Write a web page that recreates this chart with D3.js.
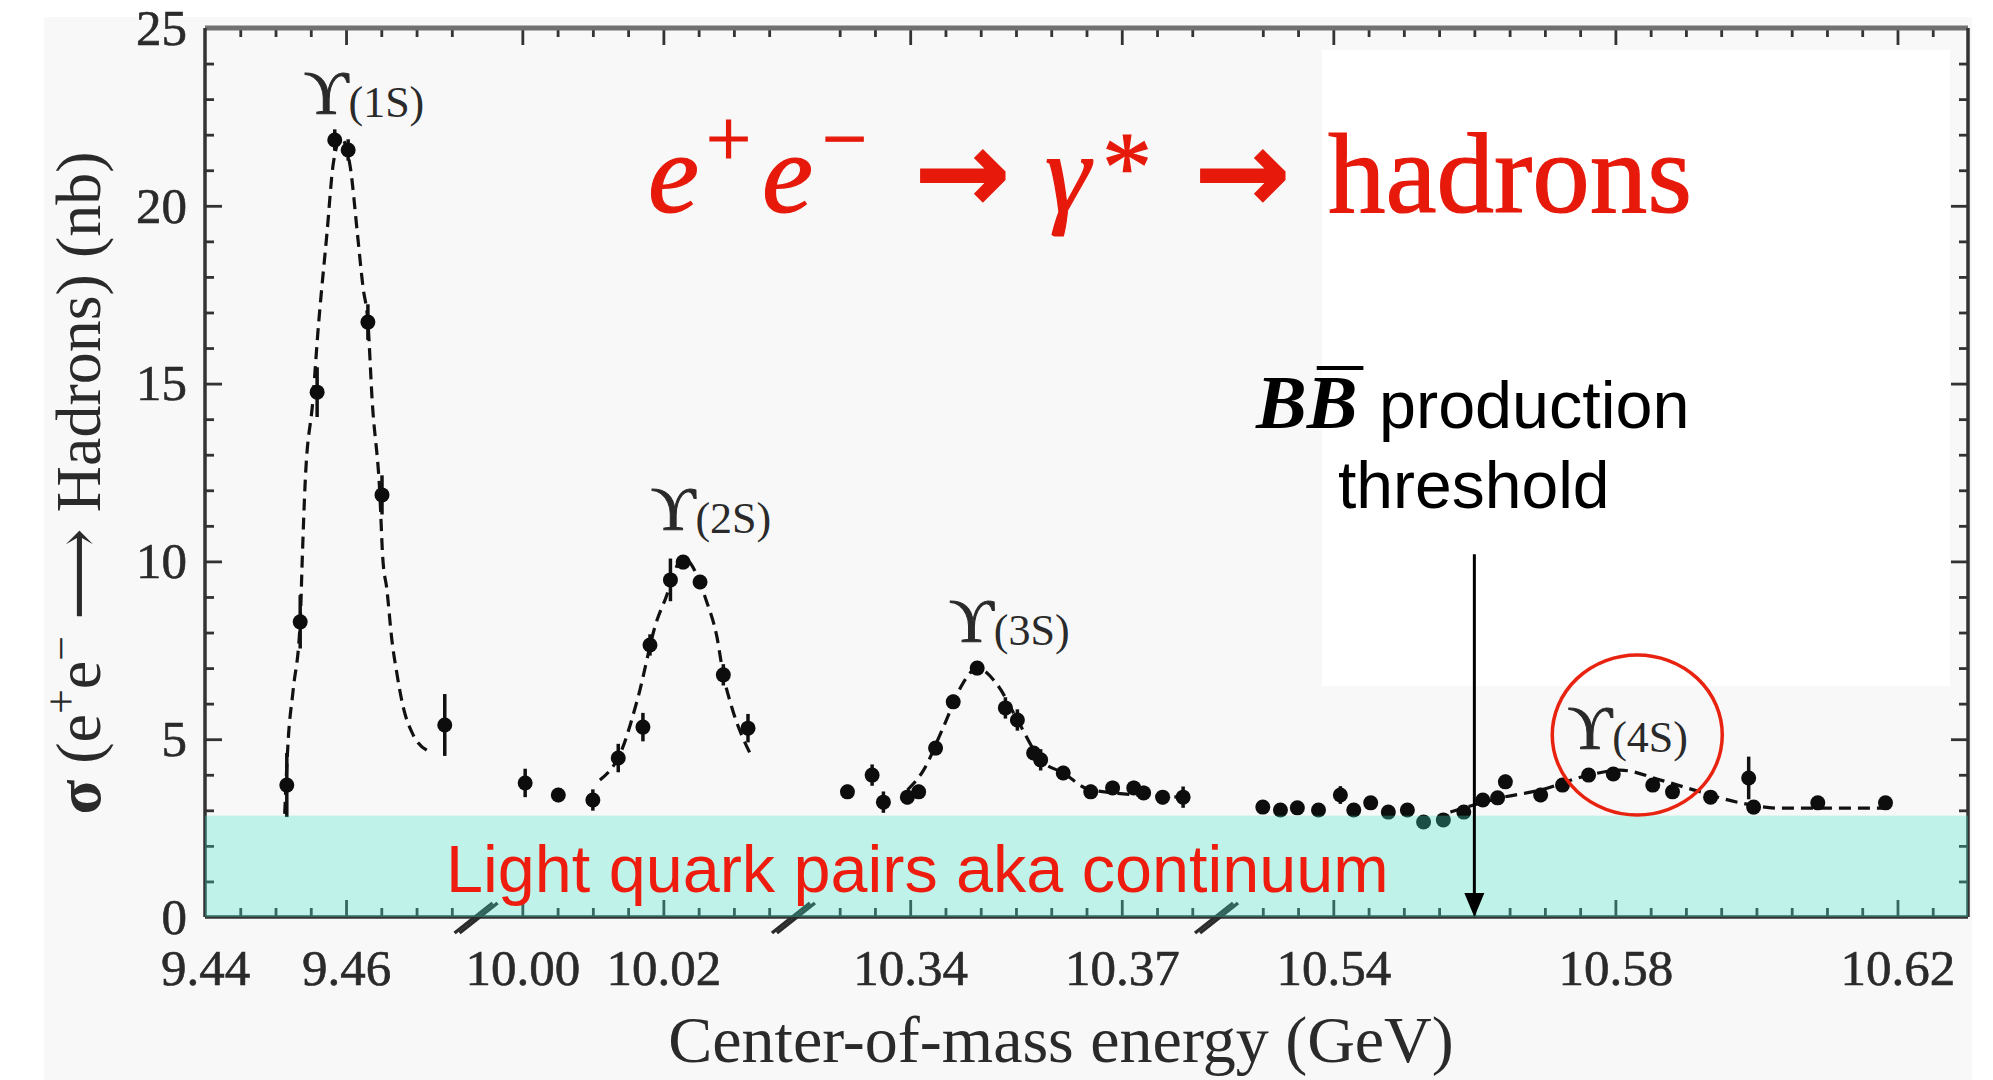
<!DOCTYPE html>
<html>
<head>
<meta charset="utf-8">
<script src="https://cdn.jsdelivr.net/npm/d3@7"></script>
<style>
  body { margin: 0; background: #fff; }
  svg { display: block; }
  .serif { font-family: "Liberation Serif", "DejaVu Serif", serif; }
  .sans { font-family: "Liberation Sans", Arial, sans-serif; }
</style>
</head>
<body>
<div id="chart"></div>
<script>
// broken x axis: visible energy windows (GeV)
const segments = [[9.44, 9.48], [9.995, 10.04], [10.325, 10.385], [10.525, 10.63]];
const xTickLabels = [9.44, 9.46, 10.00, 10.02, 10.34, 10.37, 10.54, 10.58, 10.62];
const yTickLabels = [0, 5, 10, 15, 20, 25];

// measured cross sections: [energy GeV, sigma nb, error nb]
const points1S = [
  [9.4516, 3.71, 0.9], [9.4535, 8.30, 0.75], [9.4559, 14.76, 0.7], [9.4584, 21.85, 0.3],
  [9.4603, 21.57, 0.3], [9.4631, 16.73, 0.5], [9.4651, 11.87, 0.55], [9.4740, 5.40, 0.87]
];
const points2S = [
  [10.0004, 3.77, 0.4], [10.0051, 3.43, 0.2], [10.0100, 3.29, 0.3], [10.0136, 4.47, 0.4],
  [10.0171, 5.34, 0.4], [10.0181, 7.65, 0.3], [10.0210, 9.48, 0.6], [10.0228, 9.98, 0.2],
  [10.0252, 9.42, 0.2], [10.0285, 6.81, 0.3], [10.0320, 5.31, 0.4]
];
const points3S = [
  [10.3311, 3.52, 0.2], [10.3346, 3.99, 0.3], [10.3362, 3.23, 0.3], [10.3396, 3.37, 0.2],
  [10.3412, 3.52, 0.2], [10.3436, 4.75, 0.2], [10.3461, 6.05, 0.2], [10.3495, 7.00, 0.2],
  [10.3535, 5.88, 0.3], [10.3552, 5.54, 0.3], [10.3575, 4.61, 0.2], [10.3585, 4.42, 0.3],
  [10.3617, 4.05, 0.2], [10.3656, 3.52, 0.2], [10.3687, 3.63, 0.2], [10.3717, 3.63, 0.2],
  [10.3731, 3.49, 0.2], [10.3758, 3.37, 0.2], [10.3787, 3.37, 0.3]
];
const points4S = [
  [10.5300, 3.09, 0.1], [10.5325, 3.01, 0.1], [10.5349, 3.07, 0.1], [10.5379, 3.01, 0.1],
  [10.5410, 3.43, 0.25], [10.5429, 3.01, 0.1], [10.5453, 3.21, 0.1], [10.5478, 2.95, 0.1],
  [10.5505, 3.01, 0.1], [10.5528, 2.67, 0.15], [10.5556, 2.73, 0.15], [10.5585, 2.95, 0.1],
  [10.5612, 3.29, 0.1], [10.5633, 3.35, 0.1], [10.5644, 3.80, 0.2], [10.5694, 3.43, 0.2],
  [10.5725, 3.71, 0.15], [10.5762, 3.99, 0.1], [10.5797, 4.02, 0.1], [10.5853, 3.71, 0.1],
  [10.5881, 3.52, 0.15], [10.5935, 3.37, 0.1], [10.5989, 3.91, 0.6], [10.5996, 3.09, 0.2],
  [10.6087, 3.21, 0.1], [10.6183, 3.21, 0.15]
];

// dashed fit curves: [energy GeV, sigma nb]
const fit1S = [
  [9.4513, 2.9], [9.4518, 4.98], [9.4525, 6.38], [9.4535, 8.30], [9.4538, 10.12], [9.4542, 12.2],
  [9.4553, 14.54], [9.4560, 16.42], [9.4573, 19.24], [9.4582, 21.2], [9.4593, 21.9], [9.4606, 21.09],
  [9.4616, 19.24], [9.4624, 17.72], [9.4631, 16.73], [9.4637, 14.54], [9.4648, 11.87], [9.4652, 10.12],
  [9.4658, 9.2], [9.4665, 7.79], [9.4672, 6.86], [9.4681, 5.91], [9.4694, 5.17], [9.4719, 4.64]
];
const fit2S = [
  [10.0110, 3.85], [10.0141, 4.7], [10.0163, 6.1], [10.0191, 8.35], [10.0202, 8.9], [10.0228, 10.1],
  [10.0262, 8.83], [10.0276, 7.87], [10.0285, 6.81], [10.0297, 5.9], [10.0323, 4.6]
];
const fit3S = [
  [10.3396, 3.57], [10.3419, 4.13], [10.3447, 5.34], [10.3475, 6.58], [10.3495, 7.0], [10.3524, 6.52],
  [10.3552, 5.54], [10.3585, 4.42], [10.3617, 4.05], [10.3656, 3.57], [10.3787, 3.37]
];
const fit4S = [
  [10.5566, 2.95], [10.5637, 3.35], [10.5694, 3.57], [10.5762, 3.99], [10.5807, 4.13], [10.5864, 3.85],
  [10.5920, 3.52], [10.5977, 3.21], [10.6034, 3.06], [10.6190, 3.06]
];

// resonance names and where their labels sit (energy, sigma of baseline)
const resonances = ['1S', '2S', '3S', '4S'];
const labelEnergy = [9.4540, 10.0182, 10.3455, 10.5732];
const labelSigma = [22.6, 10.9, 7.75, 4.75];

const continuumTop = 2.85;       // light-quark band height (nb)
const bbThreshold = 10.56;       // B Bbar threshold (GeV)

// ---------------------------------------------------------------
const W = 1993, H = 1080;
const margin = { top: 28, right: 25, bottom: 163, left: 205 };
const width = W - margin.left - margin.right;
const height = H - margin.top - margin.bottom;

// piecewise linear scale, same GeV-per-pixel on every window
const span = d3.sum(segments, s => s[1] - s[0]);
const xDomain = [], xRange = [];
let acc = 0;
segments.forEach(s => {
  xDomain.push(s[0], s[1]);
  xRange.push(acc / span * width, (acc + s[1] - s[0]) / span * width);
  acc += s[1] - s[0];
});
const x = d3.scaleLinear().domain(xDomain).range(xRange);
const y = d3.scaleLinear().domain([0, 25]).range([height, 0]);

const isLabel = v => xTickLabels.some(t => Math.abs(t - v) < 1e-6);
const xTicks = segments.flatMap(s =>
  d3.range(Math.round(s[0] / 0.005) + 1, Math.round(s[1] / 0.005)).map(i => +(i * 0.005).toFixed(3)));
const xMajor = xTicks.filter(isLabel);
const xMinor = xTicks.filter(v => !isLabel(v));
const yMinor = d3.range(1, 25).filter(v => v % 5 !== 0);
const yMajor = [5, 10, 15, 20];

const svg = d3.select('#chart').append('svg')
  .attr('width', W).attr('height', H);

// slide background: grey scan of the figure plus a white cover box
svg.append('rect').attr('x', 44).attr('y', 17).attr('width', 1928).attr('height', H - 17)
  .attr('fill', '#f8f8f8');
svg.append('rect').attr('x', 1322).attr('y', 50).attr('width', 628).attr('height', 636)
  .attr('fill', '#ffffff');

const chart = svg.append('g')
  .attr('transform', `translate(${margin.left},${margin.top})`);

// inward ticks on all four sides
function tickAxis(axisFn, scale, values, size, transform) {
  const g = chart.append('g')
    .attr('transform', transform)
    .call(axisFn(scale).tickValues(values).tickSize(size).tickFormat(''));
  g.select('.domain').remove();
  g.selectAll('line').attr('stroke', '#333').attr('stroke-width', 2.8);
}
tickAxis(d3.axisBottom, x, xMinor, -9, `translate(0,${height})`);
tickAxis(d3.axisBottom, x, xMajor, -17, `translate(0,${height})`);
tickAxis(d3.axisTop, x, xMinor, -9, 'translate(0,0)');
tickAxis(d3.axisTop, x, xMajor, -17, 'translate(0,0)');
tickAxis(d3.axisLeft, y, yMinor, -9, 'translate(0,0)');
tickAxis(d3.axisLeft, y, yMajor, -17, 'translate(0,0)');
tickAxis(d3.axisRight, y, yMinor, -9, `translate(${width},0)`);
tickAxis(d3.axisRight, y, yMajor, -17, `translate(${width},0)`);

// frame
chart.append('line').attr('x1', 0).attr('x2', width).attr('y1', 0).attr('y2', 0)
  .attr('stroke', '#707070').attr('stroke-width', 5);
chart.append('line').attr('x1', 0).attr('x2', width).attr('y1', height).attr('y2', height)
  .attr('stroke', '#333').attr('stroke-width', 3.5);
chart.append('line').attr('x1', 0).attr('x2', 0).attr('y1', 0).attr('y2', height)
  .attr('stroke', '#333').attr('stroke-width', 3.5);
chart.append('line').attr('x1', width).attr('x2', width).attr('y1', 0).attr('y2', height)
  .attr('stroke', '#333').attr('stroke-width', 3.5);

// axis break marks
segments.slice(0, -1).forEach(s => {
  const bx = x(s[1]);
  [-2.5, 2.5].forEach(o => {
    chart.append('line')
      .attr('x1', bx - 30 + o).attr('y1', height + 16)
      .attr('x2', bx + 8 + o).attr('y2', height - 14)
      .attr('stroke', '#2b2b2b').attr('stroke-width', 3.5);
  });
});

// tick labels
const xLab = chart.append('g').attr('transform', `translate(0,${height})`)
  .call(d3.axisBottom(x).tickValues(xTickLabels).tickSize(0).tickPadding(32).tickFormat(d3.format('.2f')));
xLab.select('.domain').remove();
xLab.attr('class', 'serif').attr('font-family', null).attr('font-size', 51);
xLab.selectAll('text').attr('fill', '#2a2a2a').attr('stroke', '#2a2a2a').attr('stroke-width', 0.6);

const yLab = chart.append('g')
  .call(d3.axisLeft(y).tickValues(yTickLabels).tickSize(0).tickPadding(18));
yLab.select('.domain').remove();
yLab.attr('class', 'serif').attr('font-family', null).attr('font-size', 51);
yLab.selectAll('text').attr('fill', '#2a2a2a').attr('stroke', '#2a2a2a').attr('stroke-width', 0.6);

// dashed fits
const line = d3.line().x(d => x(d[0])).y(d => y(d[1])).curve(d3.curveMonotoneX);
chart.selectAll('.fit')
  .data([fit1S, fit2S, fit3S, fit4S])
  .join('path')
  .attr('class', 'fit')
  .attr('d', line)
  .attr('fill', 'none')
  .attr('stroke', '#111')
  .attr('stroke-width', 3.2)
  .attr('stroke-dasharray', '12,7');

// data points with error bars
const allPoints = [...points1S, ...points2S, ...points3S, ...points4S];
chart.selectAll('.err')
  .data(allPoints)
  .join('line')
  .attr('class', 'err')
  .attr('x1', d => x(d[0])).attr('x2', d => x(d[0]))
  .attr('y1', d => y(d[1] - d[2])).attr('y2', d => y(d[1] + d[2]))
  .attr('stroke', '#111').attr('stroke-width', 3.5);
chart.selectAll('.pt')
  .data(allPoints)
  .join('circle')
  .attr('class', 'pt')
  .attr('cx', d => x(d[0])).attr('cy', d => y(d[1]))
  .attr('r', 7.5)
  .attr('fill', '#0d0d0d');

// continuum band laid over the plot
chart.append('rect')
  .attr('x', 0).attr('width', width)
  .attr('y', y(continuumTop)).attr('height', y(0) - y(continuumTop))
  .attr('fill', 'rgb(61,231,198)').attr('opacity', 0.3);

// resonance labels
resonances.forEach((r, i) => {
  const t = chart.append('text').attr('class', 'serif')
    .attr('x', x(labelEnergy[i])).attr('y', y(labelSigma[i]))
    .attr('fill', '#2a2a2a');
  t.append('tspan').attr('font-size', 62).attr('stroke', '#2a2a2a').attr('stroke-width', 1).text('\u03D2');
  t.append('tspan').attr('font-size', 44).attr('dy', 4).text(`(${r})`);
});

// circle around Y(4S)
chart.append('ellipse')
  .attr('cx', x(10.5831)).attr('cy', y(5.12))
  .attr('rx', 85).attr('ry', 80)
  .attr('fill', 'none').attr('stroke', '#e8230f').attr('stroke-width', 3.5);

// threshold arrow
chart.append('line')
  .attr('x1', x(bbThreshold)).attr('x2', x(bbThreshold))
  .attr('y1', y(10.2)).attr('y2', y(0) - 20)
  .attr('stroke', '#000').attr('stroke-width', 3);
chart.append('path')
  .attr('d', `M${x(bbThreshold) - 10},${y(0) - 24} L${x(bbThreshold) + 10},${y(0) - 24} L${x(bbThreshold)},${y(0)} Z`)
  .attr('fill', '#000');

// axis titles
svg.append('text').attr('class', 'serif')
  .attr('x', 1061).attr('y', 1062)
  .attr('text-anchor', 'middle').attr('font-size', 66).attr('fill', '#2a2a2a')
  .text('Center-of-mass energy (GeV)');

const yt = svg.append('text').attr('class', 'serif')
  .attr('transform', 'translate(100,483) rotate(-90)')
  .attr('text-anchor', 'middle').attr('font-size', 64).attr('fill', '#2a2a2a');
yt.append('tspan').attr('font-weight', 'bold').text('\u03C3');
yt.append('tspan').text(' (e');
yt.append('tspan').attr('font-size', 44).attr('dy', -24).text('+');
yt.append('tspan').attr('dy', 24).text('e');
yt.append('tspan').attr('font-size', 44).attr('dy', -24).text('\u2212');
yt.append('tspan').attr('dy', 24).text(' \u27F6 Hadrons) (nb)');

// reaction title
const red = '#e6190b';
const title = svg.append('g').attr('class', 'serif').attr('fill', red)
  .attr('stroke', red).attr('stroke-width', 1.2);
const piece = (txt, px, py, size, italic) => title.append('text')
  .attr('x', px).attr('y', py).attr('font-size', size)
  .attr('font-style', italic ? 'italic' : 'normal').text(txt);
piece('e', 648, 212, 115, true);
piece('+', 706, 166, 80, false);
piece('e', 762, 212, 115, true);
piece('\u2212', 822, 166, 80, false);
piece('\u2192', 914, 212, 115, false).attr('font-family', '"DejaVu Sans", sans-serif').attr('font-weight', 'bold');
piece('\u03B3', 1045, 212, 115, true);
piece('*', 1102, 200, 100, false);
piece('\u2192', 1194, 212, 115, false).attr('font-family', '"DejaVu Sans", sans-serif').attr('font-weight', 'bold');
piece('hadrons', 1328, 212, 115, false);

// B Bbar threshold note
const b1 = svg.append('text').attr('class', 'serif')
  .attr('x', 1256).attr('y', 428).attr('font-size', 76)
  .attr('font-weight', 'bold').attr('font-style', 'italic').text('B');
const bw = b1.node().getComputedTextLength();
svg.append('text').attr('class', 'serif')
  .attr('x', 1256 + bw).attr('y', 428).attr('font-size', 76)
  .attr('font-weight', 'bold').attr('font-style', 'italic').text('B');
svg.append('line')
  .attr('x1', 1256 + bw + 10).attr('x2', 1256 + 2 * bw + 6)
  .attr('y1', 368).attr('y2', 368)
  .attr('stroke', '#000').attr('stroke-width', 4);
svg.append('text').attr('class', 'sans')
  .attr('x', 1379).attr('y', 428).attr('font-size', 66.5).text('production');
svg.append('text').attr('class', 'sans')
  .attr('x', 1338).attr('y', 508).attr('font-size', 66).text('threshold');

// continuum label
svg.append('text').attr('class', 'sans')
  .attr('x', 446).attr('y', 892).attr('font-size', 66.5).attr('fill', '#ee1c0e')
  .text('Light quark pairs aka continuum');
</script>
</body>
</html>
